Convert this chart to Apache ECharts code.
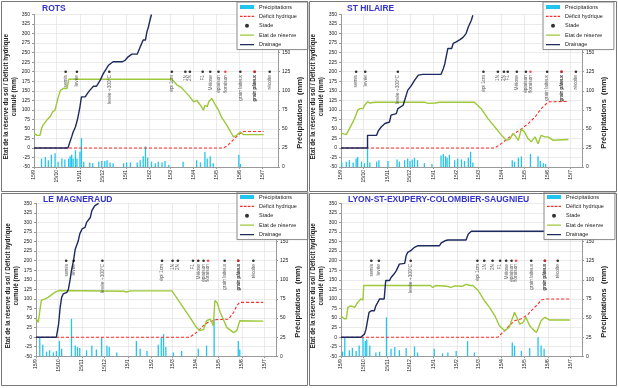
<!DOCTYPE html>
<html><head><meta charset="utf-8">
<script src="https://cdn.jsdelivr.net/npm/echarts@6/dist/echarts.min.js"></script>
<style>html,body{margin:0;padding:0;background:#fff}#c{width:618px;height:388px}</style>
</head><body><div id="c"></div>
<script>
// ---------- data ----------
const months = ['15/9','15/10','15/11','15/12','15/1','15/2','15/3','15/4','15/5','15/6','15/7'];
const monthDays = [0,30,61,91,122,153,181,212,242,273,303]; // days since 15/9
const stageNames = ['semis','levée','levée +300°C','épi 1cm','1N','2N','F1','Méiose','épiaison','floraison','grain laiteux','grain pâteux','grain pâteux','récolte'];
const stageForecast = [0,0,0,0,0,0,0,0,0,1,0,0,1,0];
const stageLevel = 200;

// ROTS
const rotsPrecip = [[10,11],[15,13],[19,9],[23,16],[28,18],[32,7],[37,11],[41,10],[46,11],[48,14],[50,16],[52,11],[55,22],[57,11],[61,20],[63,38],[66,7],[74,6],[78,5],[86,7],[90,8],[94,8],[97,9],[101,6],[105,5],[119,5],[123,6],[128,6],[137,6],[141,9],[145,14],[148,27],[151,12],[156,7],[161,5],[165,7],[170,6],[174,8],[179,3],[198,7],[216,9],[221,6],[227,20],[230,11],[234,14],[238,5],[272,16],[274,4]];
const rotsDeficit = [[0,0],[252,0],[258,8],[263,18],[268,28],[273,37],[278,43],[305,43]];
const rotsReserve = [[0,38],[4,33],[8,33],[10,51],[12,60],[17,73],[21,81],[25,95],[28,99],[31,125],[35,151],[39,156],[44,156],[46,180],[183,180],[190,165],[196,158],[201,147],[207,134],[212,121],[216,125],[221,112],[225,99],[227,112],[230,108],[232,121],[236,130],[241,112],[245,99],[249,81],[256,60],[261,42],[265,29],[269,33],[274,42],[278,35],[305,35]];
const rotsDrainage = [[0,0],[45,0],[50,29],[52,42],[55,55],[58,77],[61,108],[63,134],[68,134],[71,143],[74,151],[79,162],[83,162],[88,178],[92,195],[99,217],[105,226],[117,226],[121,230],[125,239],[130,246],[137,246],[141,265],[145,283],[148,283],[150,305],[152,318],[154,335],[156,350]];
const rotsStages = [42,57,100,183,201,207,224,234,245,254,274,293,293,313];

// ST HILAIRE
const hilPrecip = [[1,6],[7,7],[11,9],[16,6],[20,11],[22,13],[27,7],[31,5],[35,25],[38,6],[47,7],[50,9],[62,8],[74,10],[77,7],[84,9],[88,11],[91,8],[94,10],[97,12],[101,9],[110,5],[120,4],[132,15],[135,17],[138,14],[140,12],[143,16],[150,9],[154,11],[159,10],[163,8],[168,12],[171,20],[174,6],[226,9],[229,7],[234,12],[238,14],[250,17],[260,14],[263,8],[267,5],[270,4]];
const hilDeficit = [[0,0],[203,0],[212,12],[220,25],[229,38],[238,50],[247,64],[256,81],[264,103],[271,116],[275,121],[300,122]];
const hilReserve = [[0,39],[7,35],[11,50],[18,77],[22,99],[25,103],[29,103],[31,112],[35,121],[38,118],[45,120],[110,120],[115,117],[124,118],[130,120],[176,120],[185,103],[194,77],[203,55],[212,33],[218,20],[223,24],[227,38],[231,29],[234,20],[238,50],[242,42],[247,24],[251,16],[256,29],[260,11],[264,33],[269,29],[273,29],[280,20],[300,22]];
const hilDrainage = [[0,0],[35,0],[35,33],[47,33],[49,44],[53,55],[58,64],[64,68],[66,86],[73,90],[75,103],[82,112],[84,125],[88,151],[93,164],[97,177],[102,191],[108,193],[132,193],[135,208],[137,221],[141,261],[146,261],[148,274],[152,278],[157,284],[161,290],[165,300],[168,317],[172,335],[174,348]];
const hilStages = [20,32,75,188,207,215,220,232,244,250,272,291,291,310];

// LE MAGNERAUD
const magPrecip = [[5,25],[9,15],[14,6],[18,8],[23,5],[27,7],[31,20],[34,10],[47,49],[52,14],[55,12],[58,11],[67,8],[74,14],[80,9],[87,25],[94,14],[97,12],[107,5],[133,20],[138,10],[147,7],[162,15],[166,25],[169,29],[172,12],[182,5],[193,7],[215,10],[226,14],[236,49],[268,20],[270,9]];
const magDeficit = [[0,0],[204,0],[213,13],[222,30],[228,39],[235,43],[239,46],[255,47],[262,65],[266,82],[270,91],[301,91]];
const magReserve = [[0,48],[3,39],[5,39],[7,96],[12,100],[16,104],[25,117],[30,122],[116,120],[120,118],[125,121],[180,121],[186,104],[195,78],[204,52],[211,30],[217,17],[222,20],[226,43],[231,47],[235,30],[237,96],[240,90],[244,65],[253,25],[262,12],[266,17],[270,43],[301,42]];
const magDrainage = [[0,0],[27,0],[30,35],[32,78],[34,104],[36,113],[41,117],[43,126],[45,148],[47,174],[50,204],[52,230],[56,252],[58,270],[61,283],[65,287],[67,300],[72,313],[74,331],[78,344],[83,350]];
const magStages = [40,50,88,167,181,188,208,215,222,228,250,268,268,288];

// LYON-ST-EXUPERY
const lyoPrecip = [[2,6],[5,25],[11,8],[15,11],[20,7],[24,14],[29,25],[32,20],[34,22],[38,14],[46,5],[51,6],[60,51],[66,10],[71,12],[77,8],[86,11],[97,13],[101,5],[123,10],[134,4],[141,5],[152,7],[167,20],[176,5],[226,18],[229,14],[238,7],[249,11],[260,25],[264,14],[268,10]];
const lyoDeficit = [[0,0],[207,0],[216,17],[222,30],[229,43],[238,48],[247,60],[253,73],[260,87],[264,97],[270,100],[302,100]];
const lyoReserve = [[0,56],[4,48],[7,48],[9,78],[13,82],[18,78],[22,91],[26,100],[29,97],[30,135],[118,135],[121,130],[125,135],[140,133],[145,130],[150,134],[160,133],[165,138],[170,135],[174,135],[181,122],[189,96],[196,78],[203,56],[209,30],[216,17],[222,26],[229,65],[236,34],[240,38],[244,52],[249,30],[253,21],[258,12],[264,43],[269,52],[275,45],[302,45]];
const lyoDrainage = [[0,0],[26,0],[31,8],[33,21],[35,43],[37,65],[40,69],[44,69],[46,82],[51,100],[57,100],[59,148],[64,148],[66,156],[70,165],[73,174],[77,191],[84,193],[86,213],[88,222],[92,226],[97,235],[101,239],[130,239],[132,246],[137,252],[141,254],[165,254],[168,270],[172,277],[302,277]];
const lyoStages = [40,50,92,180,189,200,210,218,225,231,251,269,269,286];

const stationNames = ['ROTS','ST HILAIRE','LE MAGNERAUD','LYON-ST-EXUPERY-COLOMBIER-SAUGNIEU'];
const precipAll = [rotsPrecip, hilPrecip, magPrecip, lyoPrecip];
const deficitAll = [rotsDeficit, hilDeficit, magDeficit, lyoDeficit];
const reserveAll = [rotsReserve, hilReserve, magReserve, lyoReserve];
const drainageAll = [rotsDrainage, hilDrainage, magDrainage, lyoDrainage];
const stagesAll = [rotsStages, hilStages, magStages, lyoStages];

// ---------- layout ----------
const layout = [
  {grid:{left:34, top:14.5, width:244, height:152.5}, xMax:324, title:{left:42, top:4}, legend:{left:237, top:2}},
  {grid:{left:341, top:14.5, width:241, height:152.5}, xMax:318, title:{left:347, top:4}, legend:{left:543, top:2}},
  {grid:{left:36, top:203.3, width:240, height:153}, xMax:318, title:{left:43, top:195}, legend:{left:237, top:192}},
  {grid:{left:341, top:203.3, width:241, height:153}, xMax:318, title:{left:348, top:195}, legend:{left:544, top:192}}
];
const C = {precip:'#22c4f0', deficit:'#ff2a2a', reserve:'#9dc83a', drainage:'#1c2a5e', grid:'#dedede', axis:'#9a9a9a', text:'#222'};
// legend icons: thin solid line / dashed line inside a 14x4 box
const ICON_LINE = 'path://M0,0h14v0.01h-14z M0,1.35h14v1.3h-14z M0,3.99h14v0.01h-14z';
const ICON_DASH = 'path://M0,0h14v0.01h-14z M0,1.45h2.6v1.1h-2.6z M3.9,1.45h2.6v1.1h-2.6z M7.8,1.45h2.6v1.1h-2.6z M11.7,1.45h2.3v1.1h-2.3z M0,3.99h14v0.01h-14z';

const option = {animation:false, backgroundColor:'#fff', grid:[], xAxis:[], yAxis:[], series:[], title:[], legend:[],
  graphic:[
    {type:'rect', shape:{x:1.5,y:1.5,width:306,height:190}, style:{fill:'none',stroke:'#777',lineWidth:1}, z:100},
    {type:'rect', shape:{x:309.5,y:1.5,width:307,height:190}, style:{fill:'none',stroke:'#777',lineWidth:1}, z:100},
    {type:'rect', shape:{x:1.5,y:193.5,width:306,height:192}, style:{fill:'none',stroke:'#777',lineWidth:1}, z:100},
    {type:'rect', shape:{x:309.5,y:193.5,width:307,height:192}, style:{fill:'none',stroke:'#777',lineWidth:1}, z:100}
  ]};

stationNames.forEach((name, i) => {
  const L = layout[i];
  option.grid.push(L.grid);
  option.title.push({text:name, left:L.title.left, top:L.title.top, padding:0,
    textStyle:{fontSize:8.5, fontWeight:'bold', color:'#3333cc', fontFamily:'Liberation Sans, Arial'}});
  option.legend.push({orient:'vertical', left:L.legend.left, top:L.legend.top,
    backgroundColor:'#fff', borderColor:'#888', borderWidth:1, padding:[1.5,11,1.5,3],
    itemGap:2.4, itemWidth:14, itemHeight:4, itemTextGap:4,
    itemStyle:{borderWidth:0},
    textStyle:{fontSize:5.5, lineHeight:7, color:C.text, fontFamily:'Liberation Sans, Arial'},
    data:[{name:'Précipitations', icon:'rect'}, {name:'Déficit hydrique', icon:ICON_DASH}, {name:'Stade', icon:'circle'},
          {name:'Etat de réserve', icon:ICON_LINE}, {name:'Drainage', icon:ICON_LINE}]});
  option.xAxis.push({type:'value', gridIndex:i, min:0, max:L.xMax,
    axisLine:{onZero:false, lineStyle:{color:C.axis}},
    axisTick:{customValues:monthDays, length:2, lineStyle:{color:C.axis}},
    axisLabel:{customValues:monthDays, rotate:90, fontSize:5, margin:3, color:C.text,
      formatter:v => { const k = monthDays.indexOf(v); return k >= 0 ? months[k] : ''; }},
    splitLine:{show:true, lineStyle:{color:C.grid, width:0.6}}});
  option.yAxis.push({type:'value', gridIndex:i, min:-50, max:350, interval:25, position:'left',
    name:'Etat de la réserve du sol / Déficit hydrique\ncumulé (mm)', nameLocation:'middle', nameGap:15,
    nameTextStyle:{fontSize:6.3, fontWeight:'bold', color:C.text, lineHeight:7.5, padding:[0,12,0,0], fontFamily:'Liberation Sans, Arial'},
    axisLine:{show:true, lineStyle:{color:C.axis}}, axisTick:{show:true, length:2, lineStyle:{color:C.axis}},
    axisLabel:{fontSize:5, margin:4, color:C.text},
    splitLine:{show:true, lineStyle:{color:C.grid, width:0.6}}});
  option.yAxis.push({type:'value', gridIndex:i, min:0, max:200, interval:25, position:'right',
    name:'Précipitations  (mm)', nameLocation:'middle', nameGap:18,
    nameTextStyle:{fontSize:7.5, fontWeight:'bold', color:C.text, padding:[0,44,0,0], fontFamily:'Liberation Sans, Arial'},
    axisLine:{show:true, lineStyle:{color:C.axis}}, axisTick:{show:true, length:2, lineStyle:{color:C.axis}},
    axisLabel:{fontSize:5, margin:4, color:C.text}, splitLine:{show:false}});
  const xi = i, yl = 2*i, yr = 2*i+1;
  option.series.push({name:'Précipitations', type:'bar', xAxisIndex:xi, yAxisIndex:yr, barWidth:1.3,
    itemStyle:{color:C.precip}, data:precipAll[i]});
  option.series.push({name:'Déficit hydrique', type:'line', xAxisIndex:xi, yAxisIndex:yl, symbol:'none',
    lineStyle:{color:C.deficit, width:1.1, type:[3,2]}, itemStyle:{color:C.deficit}, data:deficitAll[i], z:3});
  option.series.push({name:'Stade', type:'scatter', xAxisIndex:xi, yAxisIndex:yl, symbol:'circle', symbolSize:2.6,
    itemStyle:{color:'#000'},
    label:{show:true, formatter:'{b}', position:'bottom', distance:2, rotate:90, align:'right', verticalAlign:'middle',
      fontSize:4.8, color:'#333', fontFamily:'Liberation Sans, Arial'},
    data:stagesAll[i].map((d, k) => ({name:stageNames[k], value:[d, stageLevel],
      itemStyle:{color: stageForecast[k] ? '#ff2020' : '#000'}})), z:4});
  option.series.push({name:'Etat de réserve', type:'line', xAxisIndex:xi, yAxisIndex:yl, symbol:'none',
    lineStyle:{color:C.reserve, width:1.4}, itemStyle:{color:C.reserve}, data:reserveAll[i], z:3});
  option.series.push({name:'Drainage', type:'line', xAxisIndex:xi, yAxisIndex:yl, symbol:'none',
    lineStyle:{color:C.drainage, width:1.4}, itemStyle:{color:C.drainage}, data:drainageAll[i], z:3});
});

const chart = echarts.init(document.getElementById('c'), null, {renderer:'canvas'});
chart.setOption(option);
</script></body></html>
